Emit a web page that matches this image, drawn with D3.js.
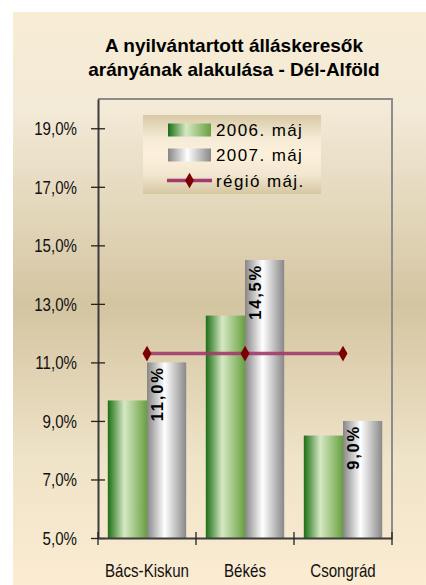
<!DOCTYPE html>
<html lang="hu">
<head>
<meta charset="UTF-8">
<title>Álláskeresők aránya - Dél-Alföld</title>
<script src="https://cdnjs.cloudflare.com/ajax/libs/d3/7.8.5/d3.min.js"></script>
<style>
  body { margin: 0; background: #fff; }
  svg { display: block; }
  .tick-label { font-family: "Liberation Sans", Arial, sans-serif; font-size: 18px; fill: #111; }
  .title { font-family: "Liberation Sans", Arial, sans-serif; font-weight: bold; font-size: 19px; fill: #000; }
  .legend-text { font-family: "Liberation Sans", Arial, sans-serif; font-size: 17px; letter-spacing: 1.4px; fill: #000; }
  .bar-label { font-family: "Liberation Sans", Arial, sans-serif; font-weight: bold; font-size: 16.5px; letter-spacing: 1.8px; fill: #000; }
</style>
</head>
<body>
<div id="chart"></div>
<script>
// data
const categories = ['Bács-Kiskun', 'Békés', 'Csongrád'];
const series2006 = [9.7, 12.6, 8.5];
const series2007 = [11.0, 14.5, 9.0];
const regio = [11.3, 11.3, 11.3];
const seriesNames = ['2006. máj', '2007. máj', 'régió máj.'];
const yTicks = [5, 7, 9, 11, 13, 15, 17, 19];
const titleLines = ['A nyilvántartott álláskeresők', 'arányának alakulása - Dél-Alföld'];

const W = 426, H = 585;
const plot = { left: 98, top: 99, right: 392, bottom: 538 };
const narrow = 0.84; // axis labels are drawn condensed in the original

const svg = d3.select('#chart').append('svg')
    .attr('width', W)
    .attr('height', H);

const defs = svg.append('defs');

// gradients
function hGrad(id, stops) {
    const g = defs.append('linearGradient').attr('id', id)
        .attr('x1', 0).attr('y1', 0).attr('x2', 1).attr('y2', 0);
    stops.forEach(s => g.append('stop').attr('offset', s[0]).attr('stop-color', s[1]));
}
function vGrad(id, stops) {
    const g = defs.append('linearGradient').attr('id', id)
        .attr('x1', 0).attr('y1', 0).attr('x2', 0).attr('y2', 1);
    stops.forEach(s => g.append('stop').attr('offset', s[0]).attr('stop-color', s[1]));
}
hGrad('green', [[0, '#1a6f14'], [0.42, '#d6e8c3'], [1, '#68a040']]);
hGrad('gray', [[0, '#868686'], [0.45, '#ffffff'], [1, '#888888']]);
vGrad('bg', [[0, '#f8ecd4'], [0.17, '#f3ead7'], [0.51, '#d4c5a1'], [0.78, '#efe3c8'], [1, '#fbecd2']]);
vGrad('legendBg', [[0, '#d8c9a5'], [0.3, '#f5ebd7'], [0.5, '#fdf0da'], [0.75, '#f2e7d1'], [1, '#d6c6a1']]);

// chart background
svg.append('rect')
    .attr('x', 13).attr('y', 12)
    .attr('width', W - 13).attr('height', H - 12)
    .attr('fill', 'url(#bg)');

// title
svg.append('text')
    .attr('class', 'title')
    .attr('text-anchor', 'middle')
    .selectAll('tspan')
    .data(titleLines)
    .enter().append('tspan')
    .attr('x', 234)
    .attr('y', (d, i) => 52 + i * 24)
    .text(d => d);

// scales
const x0 = d3.scaleBand()
    .domain(categories)
    .range([plot.left, plot.right])
    .paddingInner(0)
    .paddingOuter(0);

const x1 = d3.scaleBand()
    .domain(['a', 'b'])
    .range([0, x0.bandwidth()])
    .paddingOuter(0.25)
    .paddingInner(0);

const y = d3.scaleLinear()
    .domain([5, 20])
    .range([plot.bottom, plot.top]);

// plot frame (top and right)
svg.append('path')
    .attr('d', `M${plot.left},${plot.top}H${plot.right}V${plot.bottom}`)
    .attr('fill', 'none')
    .attr('stroke', '#8c8c8c')
    .attr('stroke-width', 2);

// bars
const groups = svg.append('g')
    .selectAll('g')
    .data(categories)
    .enter().append('g')
    .attr('transform', d => `translate(${x0(d)},0)`);

groups.append('rect')
    .attr('x', x1('a'))
    .attr('y', (d, i) => y(series2006[i]))
    .attr('width', x1.bandwidth())
    .attr('height', (d, i) => y(5) - y(series2006[i]))
    .attr('fill', 'url(#green)');

groups.append('rect')
    .attr('x', x1('b'))
    .attr('y', (d, i) => y(series2007[i]))
    .attr('width', x1.bandwidth())
    .attr('height', (d, i) => y(5) - y(series2007[i]))
    .attr('fill', 'url(#gray)');

// value labels on 2007 bars
groups.append('text')
    .attr('class', 'bar-label')
    .attr('text-anchor', 'end')
    .attr('transform', (d, i) => {
        const cx = x1('b') + x1.bandwidth() / 2 - 4;
        return `translate(${cx},${y(series2007[i]) + 4}) rotate(-90)`;
    })
    .text((d, i) => d3.format('.1f')(series2007[i]).replace('.', ',') + '%');

// axes
const yAxis = d3.axisLeft(y)
    .tickValues(yTicks)
    .tickSize(0)
    .tickFormat(d => d3.format('.1f')(d).replace('.', ',') + '%');

const yG = svg.append('g')
    .attr('transform', `translate(${plot.left},0)`)
    .call(yAxis);
yG.attr('font-size', null).attr('font-family', null);
yG.select('.domain').attr('stroke', '#3c3c3c').attr('stroke-width', 2);
yG.selectAll('.tick text')
    .attr('class', 'tick-label')
    .attr('x', 0)
    .attr('dy', '0.35em')
    .attr('transform', `translate(-21,0) scale(${narrow},1)`);
yG.selectAll('.tick').append('line')
    .attr('x1', -7).attr('x2', 7)
    .attr('stroke', '#222').attr('stroke-width', 1.3);

const xAxis = d3.axisBottom(x0).tickSize(0);
const xG = svg.append('g')
    .attr('transform', `translate(0,${plot.bottom})`)
    .call(xAxis);
xG.attr('font-size', null).attr('font-family', null);
xG.select('.domain').attr('stroke', '#3c3c3c').attr('stroke-width', 2);
xG.selectAll('.tick text')
    .attr('class', 'tick-label')
    .attr('y', 0)
    .attr('dy', 0)
    .attr('transform', `translate(0,39) scale(${narrow},1)`);

// category boundary ticks
const boundaries = categories.map(c => x0(c) + x0.bandwidth()).concat([plot.left]);
xG.selectAll('.bound')
    .data(boundaries)
    .enter().append('line')
    .attr('x1', d => d).attr('x2', d => d)
    .attr('y1', -6).attr('y2', 7)
    .attr('stroke', '#222').attr('stroke-width', 1.3);

// regional line
const cx = d => x0(d) + x0.bandwidth() / 2;
const line = d3.line()
    .x((d, i) => cx(categories[i]))
    .y(d => y(d));

svg.append('path')
    .datum(regio)
    .attr('d', line)
    .attr('fill', 'none')
    .attr('stroke', '#a23a6b')
    .attr('stroke-opacity', 0.9)
    .attr('stroke-width', 3.5);

const diamond = d3.symbol().type(d3.symbolDiamond).size(70);
svg.append('g')
    .selectAll('path')
    .data(regio)
    .enter().append('path')
    .attr('d', diamond)
    .attr('transform', (d, i) => `translate(${cx(categories[i])},${y(d)})`)
    .attr('fill', '#7a0000');

// legend
const legend = svg.append('g').attr('transform', 'translate(143,115)');
legend.append('rect')
    .attr('width', 178).attr('height', 79)
    .attr('fill', 'url(#legendBg)');

const rowY = [15, 40, 65.5];
legend.append('rect')
    .attr('x', 25).attr('y', rowY[0] - 6.5)
    .attr('width', 43).attr('height', 13)
    .attr('fill', 'url(#green)');
legend.append('rect')
    .attr('x', 25).attr('y', rowY[1] - 6.5)
    .attr('width', 43).attr('height', 13)
    .attr('fill', 'url(#gray)');
legend.append('line')
    .attr('x1', 24).attr('x2', 69)
    .attr('y1', rowY[2]).attr('y2', rowY[2])
    .attr('stroke', '#a23a6b').attr('stroke-width', 3.5);
legend.append('path')
    .attr('d', diamond)
    .attr('transform', `translate(46.5,${rowY[2]})`)
    .attr('fill', '#7a0000');

legend.selectAll('text.legend-text')
    .data(seriesNames)
    .enter().append('text')
    .attr('class', 'legend-text')
    .attr('x', 73)
    .attr('y', (d, i) => rowY[i])
    .attr('dy', '0.36em')
    .text(d => d);
</script>
</body>
</html>
